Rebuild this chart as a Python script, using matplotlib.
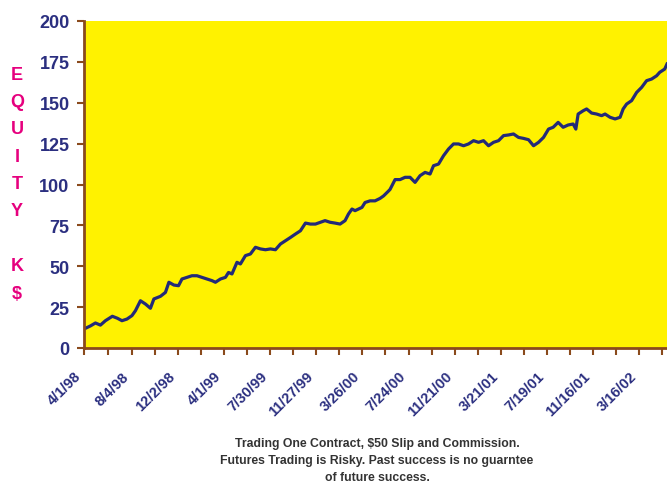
import matplotlib
matplotlib.use("Agg")
import matplotlib.pyplot as plt
import pandas as pd

# ---------------------------------------------------------
# 1. Data (days after 4/1/98, equity in K$)
# ---------------------------------------------------------
start_date = "1998-04-01"
days = [1, 18, 31, 44, 57, 75, 88, 100, 113, 126, 135, 148, 161, 174, 183,
        200, 213, 222, 235, 247, 256, 269, 282, 295, 308, 321, 334, 343, 356,
        369, 377, 386, 399, 408, 421, 434, 447, 460, 473, 486, 499, 512, 525,
        538, 551, 564, 577, 590, 603, 616, 628, 641, 654, 667, 680, 689, 698,
        706, 715, 724, 732, 745, 758, 771, 780, 793, 797, 810, 823, 836, 849,
        862, 875, 888, 901, 910, 923, 936, 949, 962, 975, 988, 1001, 1014,
        1027, 1040, 1053, 1066, 1079, 1092, 1105, 1118, 1131, 1144, 1157,
        1170, 1183, 1196, 1209, 1221, 1234, 1247, 1260, 1273, 1280, 1286,
        1299, 1308, 1321, 1334, 1347, 1356, 1369, 1382, 1395, 1403, 1412,
        1425, 1438, 1451, 1464, 1477, 1490, 1498, 1511, 1517]
equity = [11.6, 13.5, 15.3, 14.0, 16.7, 19.4, 18.2, 16.7, 17.7, 19.8, 22.8,
          28.9, 26.9, 24.3, 30.0, 31.6, 34.0, 40.2, 38.5, 38.1, 42.2, 43.2,
          44.2, 44.2, 43.2, 42.2, 41.2, 40.2, 42.2, 43.2, 46.2, 45.3, 52.4,
          51.4, 56.5, 57.5, 61.6, 60.6, 60.1, 60.6, 60.1, 63.6, 65.6, 67.6,
          69.7, 71.7, 76.4, 75.8, 75.8, 76.9, 77.9, 76.9, 76.4, 75.8, 77.9,
          82.0, 85.0, 84.0, 85.0, 86.0, 89.0, 90.0, 90.0, 91.5, 93.0, 96.0,
          97.0, 103.0, 103.0, 104.4, 104.4, 101.3, 105.4, 107.4, 106.4, 111.5,
          112.5, 117.6, 121.7, 124.8, 124.8, 123.7, 124.8, 126.8, 125.8, 126.8,
          123.7, 125.8, 126.8, 129.9, 130.3, 130.9, 128.8, 128.2, 127.4, 123.7,
          125.8, 128.8, 133.9, 135.0, 138.0, 135.0, 136.4, 137.0, 133.9, 143.1,
          145.1, 146.2, 143.7, 143.1, 142.1, 143.1, 141.1, 140.1, 141.1, 146.2,
          149.2, 151.3, 156.3, 159.4, 163.5, 164.5, 166.5, 168.6, 170.6, 173.7]

tick_labels = ["4/1/98", "8/4/98", "12/2/98", "4/1/99", "7/30/99", "11/27/99",
               "3/26/00", "7/24/00", "11/21/00", "3/21/01", "7/19/01",
               "11/16/01", "3/16/02"]
y_ticks = [0, 25, 50, 75, 100, 125, 150, 175, 200]
y_title = ["E", "Q", "U", "I", "T", "Y", "", "K", "$"]
footer = ("Trading One Contract, $50 Slip and Commission.\n"
          "Futures Trading is Risky. Past success is no guarntee\n"
          "of future success.")

# ---------------------------------------------------------
# 2. Build dates
# ---------------------------------------------------------
t0 = pd.Timestamp(start_date)
dates = [t0 + pd.Timedelta(days=d) for d in days]
label_dates = list(pd.to_datetime(tick_labels, format="%m/%d/%y"))

# a tick mark halfway between each labelled date, plus one after the last
tick_pos = []
tick_txt = []
for i, d in enumerate(label_dates):
    tick_pos.append(d)
    tick_txt.append(tick_labels[i])
    if i + 1 < len(label_dates):
        nxt = label_dates[i + 1]
    else:
        nxt = d + pd.Timedelta(days=120)
    tick_pos.append(d + (nxt - d) / 2)
    tick_txt.append("")

# ---------------------------------------------------------
# 3. Plot
# ---------------------------------------------------------
navy = "#2b2f80"
brown = "#8a4a1c"
fig = plt.figure(figsize=(6.67, 4.89), dpi=100)
ax = fig.add_axes([83.5 / 667, 1 - 349 / 489, 1 - 83.5 / 667, (349 - 22) / 489])
ax.set_facecolor("#fff200")

ax.plot(dates, equity, color="#232a78", linewidth=2.3)

ax.set_ylim(0, 200)
ax.set_xlim(t0, t0 + pd.Timedelta(days=1517))
ax.set_yticks(y_ticks)
ax.set_xticks(tick_pos)
ax.set_xticklabels(tick_txt)

for s in ["top", "right"]:
    ax.spines[s].set_visible(False)
for s in ["left", "bottom"]:
    ax.spines[s].set_color(brown)
    ax.spines[s].set_linewidth(2)

ax.tick_params(axis="both", direction="out", length=5, width=1.5, color=brown)
ax.tick_params(axis="y", pad=5)
ax.tick_params(axis="x", pad=10)
for lab in ax.get_yticklabels():
    lab.set_fontfamily("Liberation Sans")
    lab.set_fontweight("bold")
    lab.set_fontsize(13)
    lab.set_color(navy)
for lab in ax.get_xticklabels():
    lab.set_fontfamily("Liberation Sans")
    lab.set_fontweight("bold")
    lab.set_fontsize(10.5)
    lab.set_color(navy)
    lab.set_rotation(45)
    lab.set_ha("right")
    lab.set_va("top")

# vertical stacked axis title
for i, ch in enumerate(y_title):
    fig.text(17 / 667, 1 - (75 + 27.4 * i) / 489, ch, color="#e6007e",
             fontfamily="Liberation Sans", fontweight="bold", fontsize=13,
             ha="center", va="center")

fig.text(377 / 667, 1 - 461 / 489, footer, ha="center", va="center",
         fontfamily="Liberation Sans", fontweight="bold", fontsize=8.8,
         color="#333333", linespacing=1.55)

fig.savefig("out.png", dpi=100, facecolor="white")
